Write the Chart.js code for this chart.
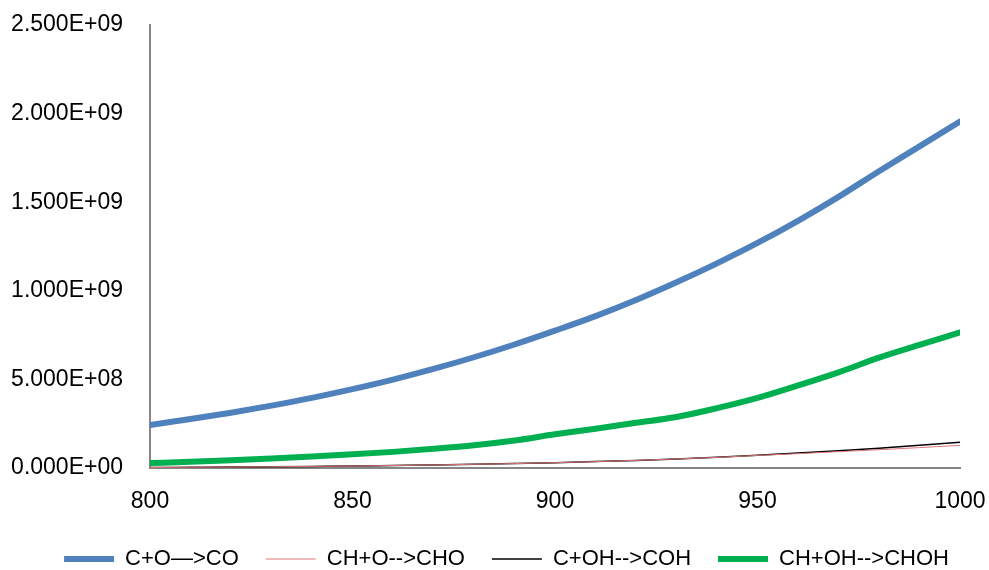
<!DOCTYPE html>
<html>
<head>
<meta charset="utf-8">
<script src="https://cdn.jsdelivr.net/npm/chart.js@4/dist/chart.umd.min.js"></script>
<style>
  html, body { margin: 0; padding: 0; background: #fff; }
</style>
</head>
<body>
<canvas id="c" width="989" height="570"></canvas>
<script>
// Temperature (K)
const temperatures = [800, 810, 820, 830, 840, 850, 860, 870, 880, 890, 900,
                      910, 920, 930, 940, 950, 960, 970, 980, 990, 1000];

// Rate constants for each reaction
const rateCO   = [2.43e8, 2.76e8, 3.12e8, 3.52e8, 3.96e8, 4.45e8, 4.99e8, 5.59e8, 6.25e8, 6.97e8, 7.75e8,
                  8.57e8, 9.48e8, 1.048e9, 1.155e9, 1.270e9, 1.395e9, 1.530e9, 1.675e9, 1.815e9, 1.955e9];
const rateCHO  = [3.0e6, 4.0e6, 5.0e6, 7.0e6, 9.0e6, 1.1e7, 1.4e7, 1.7e7, 2.1e7, 2.5e7, 3.0e7,
                  3.6e7, 4.3e7, 5.1e7, 6.0e7, 7.1e7, 8.1e7, 9.2e7, 1.03e8, 1.15e8, 1.28e8];
const rateCOH  = [3.0e6, 4.0e6, 5.0e6, 7.0e6, 9.0e6, 1.1e7, 1.4e7, 1.7e7, 2.1e7, 2.5e7, 3.0e7,
                  3.6e7, 4.3e7, 5.1e7, 6.1e7, 7.2e7, 8.4e7, 9.7e7, 1.12e8, 1.28e8, 1.45e8];
const rateCHOH = [2.8e7, 3.5e7, 4.4e7, 5.4e7, 6.5e7, 7.7e7, 9.1e7, 1.08e8, 1.28e8, 1.55e8, 1.90e8,
                  2.22e8, 2.55e8, 2.88e8, 3.38e8, 3.96e8, 4.66e8, 5.40e8, 6.23e8, 6.95e8, 7.65e8];

const seriesNames = ['C+O\u2014>CO', 'CH+O-->CHO', 'C+OH-->COH', 'CH+OH-->CHOH'];

const yTicks = [0, 5e8, 1e9, 1.5e9, 2e9, 2.5e9];
const xTicks = [800, 850, 900, 950, 1000];

function sci(v) {
  if (v === 0) return '0.000E+00';
  const e = Math.floor(Math.log10(Math.abs(v)) + 1e-9);
  const m = v / Math.pow(10, e);
  return m.toFixed(3) + 'E' + (e < 0 ? '-' : '+') + String(Math.abs(e)).padStart(2, '0');
}

function pts(values) {
  return temperatures.map((t, i) => ({ x: t, y: values[i] }));
}

const axisGray = '#868686';
const fontFamily = "'Liberation Sans', Arial, sans-serif";

// Nudge the legend row to the right so it sits under the plot
const legendShift = {
  id: 'legendShift',
  afterLayout(chart) {
    if (chart.legend) { chart.legend.left += 24; chart.legend.right += 24; }
  }
};

new Chart(document.getElementById('c'), {
  type: 'line',
  plugins: [legendShift],
  data: {
    datasets: [
      { label: seriesNames[0], data: pts(rateCO),   borderColor: '#4F81BD', backgroundColor: '#4F81BD', borderWidth: 6,   pointStyle: 'line', borderCapStyle: 'round' },
      { label: seriesNames[1], data: pts(rateCHO),  borderColor: '#E0777A', backgroundColor: '#E0777A', borderWidth: 1,   pointStyle: 'line' },
      { label: seriesNames[2], data: pts(rateCOH),  borderColor: '#000000', backgroundColor: '#000000', borderWidth: 1.5, pointStyle: 'line' },
      { label: seriesNames[3], data: pts(rateCHOH), borderColor: '#00B050', backgroundColor: '#00B050', borderWidth: 6,   pointStyle: 'line', borderCapStyle: 'round' }
    ]
  },
  options: {
    responsive: false,
    animation: false,
    maintainAspectRatio: false,
    elements: {
      point: { radius: 0, hoverRadius: 0 },
      line: { tension: 0.3, cubicInterpolationMode: 'monotone' }
    },
    layout: { padding: { left: 5, right: 29, top: 25, bottom: -10 } },
    plugins: {
      tooltip: { enabled: false },
      legend: {
        position: 'bottom',
        labels: {
          usePointStyle: true,
          pointStyleWidth: 50,
          boxHeight: 6,
          padding: 27,
          color: '#000',
          font: { family: fontFamily, size: 22 }
        }
      }
    },
    scales: {
      x: {
        type: 'linear',
        min: 800,
        max: 1000,
        afterBuildTicks: (axis) => { axis.ticks = xTicks.map(v => ({ value: v })); },
        afterFit: (axis) => { axis.height = 53; axis.paddingLeft = 0; axis.paddingRight = 0; },
        grid: { display: false, drawTicks: false },
        border: { display: true, color: axisGray, width: 2 },
        ticks: { color: '#000', padding: 20, maxRotation: 0, autoSkip: false,
                 font: { family: fontFamily, size: 23 }, callback: (v) => String(v) }
      },
      y: {
        min: 0,
        max: 2.5e9,
        afterBuildTicks: (axis) => { axis.ticks = yTicks.map(v => ({ value: v })); },
        afterFit: (axis) => { axis.width = 145; axis.paddingTop = 0; axis.paddingBottom = 0; },
        grid: { display: false, drawTicks: false },
        border: { display: true, color: axisGray, width: 2 },
        ticks: { color: '#000', padding: 27, autoSkip: false,
                 font: { family: fontFamily, size: 23 }, callback: (v) => sci(v) }
      }
    }
  }
});
</script>
</body>
</html>
